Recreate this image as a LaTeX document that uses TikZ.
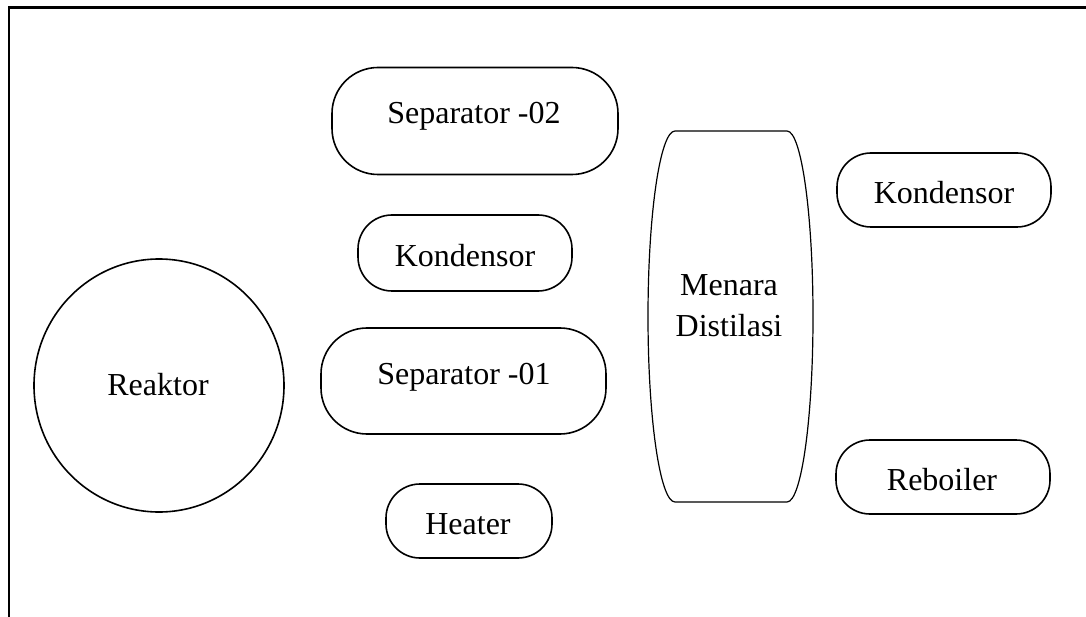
\documentclass[tikz,border=0pt]{standalone}
\usepackage{fontspec}
\setmainfont{Liberation Serif}
\usetikzlibrary{shapes.geometric,calc}

\tikzset{
  unit/.style={draw=black, line width=1.6pt, fill=white, inner sep=0pt},
  roundbox/.style={unit, rectangle, rounded corners=#1},
  roundbox/.default=34pt,
  vessel/.style={unit, ellipse},
  label/.style={font=\fontsize{32}{41}\selectfont, text=black, inner sep=0pt, align=center}
}

\begin{document}
\begin{tikzpicture}[x=1pt,y=1pt]
  \useasboundingbox (0,0) rectangle (1086,-617);
  \fill[white] (0,0) rectangle (1086,-617);

  % page frame (open at the bottom and on the right)
  \draw[line width=2.2pt] (9,-617) -- (9,-7.5) -- (1086,-7.5);

  % equipment outlines
  \node[vessel, minimum width=250pt, minimum height=253pt] (reaktor) at (159,-385.5) {};

  \node[roundbox=46pt, minimum width=286pt, minimum height=107pt] (sep2) at (475,-121) {};
  \node[roundbox=34pt, minimum width=214pt, minimum height=76pt]  (kond1) at (465,-253) {};
  \node[roundbox=46pt, minimum width=285pt, minimum height=106pt] (sep1) at (463.5,-381) {};
  \node[roundbox=34pt, minimum width=166pt, minimum height=74pt]  (heater) at (469,-521) {};

  \node[roundbox=34pt, minimum width=214pt, minimum height=74pt]  (kond2) at (944,-190) {};
  \node[roundbox=34pt, minimum width=214pt, minimum height=74pt]  (reboiler) at (943,-477) {};

  % distillation column: flat ends, elliptic sides
  \draw[line width=1.2pt, fill=white]
    (675,-131) -- (787,-131)
    arc[start angle=90, end angle=-90, x radius=26pt, y radius=185.5pt]
    -- (675,-502)
    arc[start angle=270, end angle=90, x radius=27pt, y radius=185.5pt] -- cycle;

  % names
  \node[label] (t-reaktor) at (158,-385) {Reaktor};
  \node[label] (t-sep2) at (474,-116) {Separator -02};
  \node[label] (t-kond1) at (465,-256) {Kondensor};
  \node[label] (t-sep1) at (464,-377) {Separator -01};
  \node[label] (t-heater) at (468,-524) {Heater};
  \node[label] (t-kond2) at (944,-193) {Kondensor};
  \node[label] (t-reboiler) at (942,-480) {Reboiler};
  \node[label] (t-menara) at (729,-306) {Menara\\Distilasi};
\end{tikzpicture}
\end{document}
